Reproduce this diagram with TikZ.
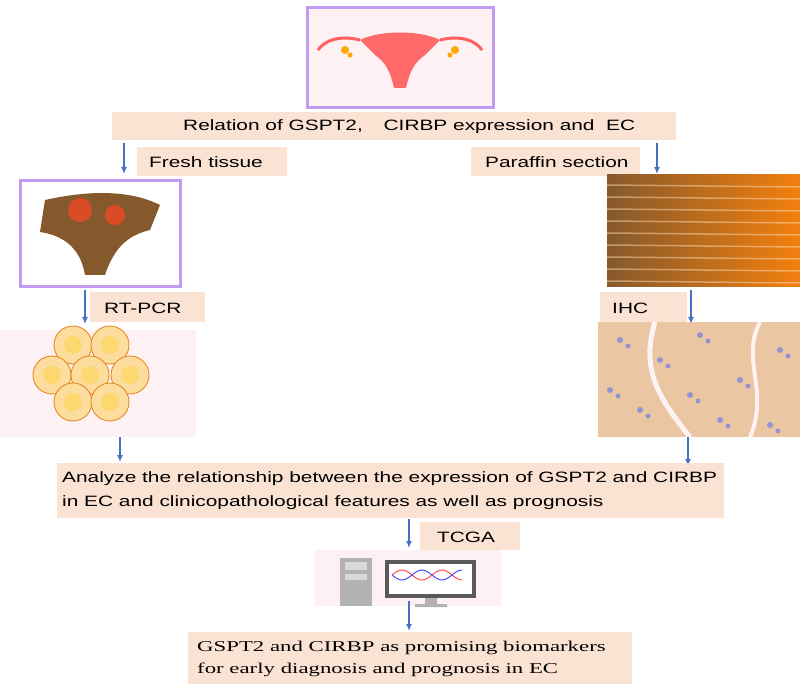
\documentclass[tikz,border=0pt]{standalone}
\usepackage{fontspec}
\usepackage{graphicx}
\setmainfont{Liberation Sans}
\newfontfamily\serifx{Liberation Serif}
\newcommand\widetxt[1]{\scalebox{1.39}[1]{#1}}
\begin{document}
\begin{tikzpicture}[x=1pt,y=-1pt,
 lab/.style={fill=peach,inner sep=0pt,anchor=north west},
 arr/.style={-{Latex[length=7pt,width=6pt]},draw=arrblue,line width=1.6pt},
 txt/.style={font=\fontsize{15}{21}\selectfont,anchor=west,inner sep=0pt}]
\usetikzlibrary{arrows.meta}
\definecolor{peach}{HTML}{FBE3D4}
\definecolor{arrblue}{HTML}{4472C4}
\definecolor{glow}{HTML}{C49BF2}
\definecolor{pinkbg}{HTML}{FDF1F3}
\useasboundingbox (0,0) rectangle (800,684);
% top image
\node[draw=glow,line width=3pt,fill=pinkbg,minimum width=186pt,minimum height=100pt,anchor=north west] (top) at (306,6) {};
\fill[red!45!pink] (360,40) .. controls (380,30) and (420,30) .. (440,40) -- (425,55) .. controls (415,62) and (410,70) .. (406,88) -- (394,88) .. controls (390,70) and (385,62) .. (375,55) -- cycle;
\draw[red!50!pink,line width=3pt] (360,40) .. controls (340,35) and (325,40) .. (318,50);
\draw[red!50!pink,line width=3pt] (440,40) .. controls (460,35) and (475,40) .. (482,50);
\fill[orange!70!yellow] (345,50) circle (4) (455,50) circle (4) (350,55) circle (2.5) (450,55) circle (2.5);
% banner
\node[lab,minimum width=564pt,minimum height=28pt] (b1) at (112,112) {};
\node[txt] at (183,127) {\widetxt{Relation of GSPT2,\quad CIRBP expression and\ \ EC}};
% fresh / paraffin
\node[lab,minimum width=150pt,minimum height=29pt] (fr) at (137,147) {};
\node[txt] at (149,162) {\widetxt{Fresh tissue}};
\node[lab,minimum width=169pt,minimum height=29pt] (pa) at (471,147) {};
\node[txt] at (485,162) {\widetxt{Paraffin section}};
\coordinate (a1s) at (124,143); \coordinate (a1e) at (124,174);
\draw[arr] (a1s) -- (a1e);
\coordinate (a2s) at (657,143); \coordinate (a2e) at (657,174);
\draw[arr] (a2s) -- (a2e);
% left photo
\node[draw=glow,line width=3pt,fill=white,minimum width=160pt,minimum height=106pt,anchor=north west] (lp) at (19,179) {};
\fill[brown!70!black] (45,200) .. controls (90,190) and (130,190) .. (160,205) -- (150,230) .. controls (130,235) and (115,245) .. (105,275) -- (85,275) .. controls (80,245) and (60,235) .. (40,232) -- cycle;
\fill[red!40!brown] (80,210) circle (12) (115,215) circle (10);
% right photo
\shade[left color=brown!70!black,right color=orange!80!brown] (607,175) rectangle (800,287);
\foreach \yy in {185,197,209,221,233,245,257,269,281}
 \draw[white!70!orange,opacity=0.5,line width=1.5pt] (607,\yy) -- (800,\yy+2);
\node[anchor=north west,minimum width=193pt,minimum height=112pt,inner sep=0pt] (rp) at (607,175) {};
% RT-PCR / IHC
\node[lab,minimum width=115pt,minimum height=30pt] (rt) at (90,292) {};
\node[txt] at (104,308) {\widetxt{RT-PCR}};
\node[lab,minimum width=87pt,minimum height=30pt] (ihc) at (600,292) {};
\node[txt] at (612,308) {\widetxt{IHC}};
\coordinate (a3s) at (85,290); \coordinate (a3e) at (85,324);
\draw[arr] (a3s) -- (a3e);
\coordinate (a4s) at (691,290); \coordinate (a4e) at (691,324);
\draw[arr] (a4s) -- (a4e);
% cells
\node[fill=pinkbg,minimum width=196pt,minimum height=107pt,anchor=north west,inner sep=0pt] (cells) at (0,330) {};
\foreach \cx/\cy in {73/345,110/345,52/375,90/375,130/375,73/402,110/402}{
 \filldraw[draw=orange!60!brown,fill=yellow!30!orange!35!white,line width=0.8pt] (\cx,\cy) circle (19);
 \fill[yellow!50!orange!55!white] (\cx,\cy) circle (9);}
% IHC image
\fill[orange!25!brown!45!white] (598,322) rectangle (800,437);
\foreach \px/\py in {620/340,660/360,700/335,740/380,780/350,640/410,720/420,770/425,610/390,690/395}
 \fill[blue!40!gray!60!white] (\px,\py) circle (3) (\px+8,\py+6) circle (2.5);
\draw[white!80!pink,line width=5pt] (655,322) .. controls (640,370) and (660,400) .. (690,437);
\draw[white!80!pink,line width=4pt] (760,322) .. controls (740,360) and (770,390) .. (750,437);
\node[anchor=north west,minimum width=202pt,minimum height=115pt,inner sep=0pt] (ip) at (598,322) {};
\coordinate (a5s) at (120,437); \coordinate (a5e) at (120,462);
\draw[arr] (a5s) -- (a5e);
\coordinate (a6s) at (688,437); \coordinate (a6e) at (688,466);
\draw[arr] (a6s) -- (a6e);
% big box
\node[lab,minimum width=667pt,minimum height=55pt] (big) at (57,463) {};
\node[txt] at (62,479) {\widetxt{Analyze the relationship between the expression of GSPT2 and CIRBP}};
\node[txt] at (62,503) {\widetxt{in EC and clinicopathological features as well as prognosis}};
\coordinate (a7s) at (409,519); \coordinate (a7e) at (409,548);
\draw[arr] (a7s) -- (a7e);
\node[lab,minimum width=100pt,minimum height=28pt] (tc) at (420,522) {};
\node[txt] at (437,537) {\widetxt{TCGA}};
% computer
\node[fill=pinkbg,minimum width=186pt,minimum height=56pt,anchor=north west,inner sep=0pt] (comp) at (315,550) {};
\fill[gray!60] (340,558) rectangle (372,606);
\fill[gray!30] (345,562) rectangle (367,570) (345,574) rectangle (367,580);
\fill[gray!70!black] (385,560) rectangle (476,598);
\fill[white] (389,564) rectangle (472,594);
\draw[red!70,line width=1pt] (392,575) sin (402,570) cos (412,575) sin (422,580) cos (432,575) sin (442,570) cos (452,575) sin (462,580);
\draw[blue!70,line width=1pt] (392,575) sin (402,580) cos (412,575) sin (422,570) cos (432,575) sin (442,580) cos (452,575) sin (462,570);
\fill[gray!60] (425,598) rectangle (437,604) (415,604) rectangle (447,607);
\coordinate (a8s) at (409,601); \coordinate (a8e) at (409,631);
\draw[arr] (a8s) -- (a8e);
% final
\node[lab,minimum width=444pt,minimum height=52pt] (fin) at (188,632) {};
\node[anchor=west,inner sep=0pt,font=\serifx\fontsize{15}{20}\selectfont] at (197,648) {\scalebox{1.52}[1]{GSPT2 and CIRBP as promising biomarkers}};
\node[anchor=west,inner sep=0pt,font=\serifx\fontsize{15}{20}\selectfont] at (197,670) {\scalebox{1.52}[1]{for early diagnosis and prognosis in EC}};
\end{tikzpicture}
\end{document}
